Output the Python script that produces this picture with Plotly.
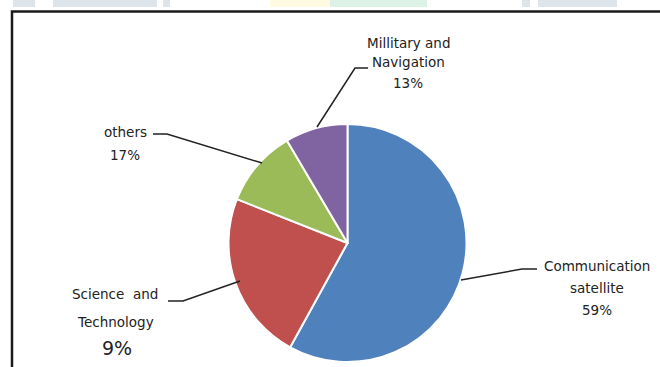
import plotly.graph_objects as go

W, H = 660, 367

# ---- data ----
categories = ["Communication satellite", "Science and Technology", "others", "Millitary and Navigation"]
slice_values = [58, 23, 10.5, 8.5]          # slice sizes as drawn
printed_pct = ["59%", "9%", "17%", "13%"]   # percentages as printed on the labels
label_lines = [["Communication", "satellite"], ["Science  and", "Technology"], ["others"], ["Millitary and", "Navigation"]]
colors = ["#4F81BD", "#C0504D", "#9BBB59", "#8064A2"]

# ---- helpers: pixel -> paper ----
def px(x):
    return x / W

def py(y):
    return 1 - y / H

cx, cy, d = 347.5, 243, 238

fig = go.Figure(go.Pie(
    labels=categories,
    values=slice_values,
    sort=False,
    direction="clockwise",
    rotation=0,
    marker=dict(colors=colors, line=dict(color="white", width=2)),
    textinfo="none",
    hoverinfo="label+percent",
    showlegend=False,
    domain=dict(x=[px(cx - d / 2), px(cx + d / 2)], y=[py(cy + d / 2), py(cy - d / 2)]),
))

TXT = "#222222"
FAM = "DejaVu Sans"

# label placement (pixels): centre x, y of each line (name lines then pct line), pct font size
label_layout = {
    0: dict(x=597, ys=[266, 288, 310], pct_size=13.5),
    1: dict(x=115, ys=[294, 322, 348], pct_size=19),
    2: dict(x=125, ys=[132, 155], pct_size=13.5),
    3: dict(x=408, ys=[43, 62, 83], pct_size=13.5),
}
annotations = []
for i, lay in label_layout.items():
    lines = label_lines[i] + [printed_pct[i]]
    for j, (txt, y) in enumerate(zip(lines, lay["ys"])):
        size = lay["pct_size"] if j == len(lines) - 1 else 13.5
        x = lay["x"] + (2 if (i == 1 and j == len(lines) - 1) else 0)
        annotations.append(dict(x=px(x), y=py(y), xref="paper", yref="paper", text=txt,
                                showarrow=False, font=dict(family=FAM, size=size, color=TXT),
                                xanchor="center", yanchor="middle"))

# leader lines (pixels): list of polylines
leaders = [
    [(537, 269), (522, 269), (461, 280)],
    [(168, 301), (183, 301), (240, 281)],
    [(153, 134), (167, 134), (262, 163)],
    [(368, 68), (355, 68), (317, 127)],
]
shapes = []
for pts in leaders:
    path = "M " + " L ".join(f"{px(x)},{py(y)}" for x, y in pts)
    shapes.append(dict(type="path", xref="paper", yref="paper", path=path,
                       line=dict(color="#222222", width=1.5)))

# chart frame (left and top edges visible)
shapes.append(dict(type="rect", xref="paper", yref="paper",
                   x0=px(12), x1=px(720), y0=py(420), y1=py(11.5),
                   line=dict(color="#1a1a1a", width=2.5), fillcolor="rgba(0,0,0,0)"))

# faint watermark strip at the very top
strip = [
    (13, 35, "#dde5ea"), (53, 157, "#dde5ea"), (163, 170, "#dde5ea"),
    (270, 330, "#fffbe3"), (330, 427, "#dcf2e6"),
    (522, 530, "#dde5ea"), (538, 617, "#dde5ea"),
]
for x0, x1, c in strip:
    shapes.append(dict(type="rect", xref="paper", yref="paper",
                       x0=px(x0), x1=px(x1), y0=py(7), y1=py(0),
                       line=dict(width=0), fillcolor=c, layer="below"))

fig.update_layout(
    width=W, height=H,
    margin=dict(l=0, r=0, t=0, b=0),
    paper_bgcolor="white",
    plot_bgcolor="white",
    annotations=annotations,
    shapes=shapes,
)

fig.write_html("out.html", config={"displayModeBar": False},
               post_script="document.body.style.margin='0';document.body.style.overflow='hidden';")
